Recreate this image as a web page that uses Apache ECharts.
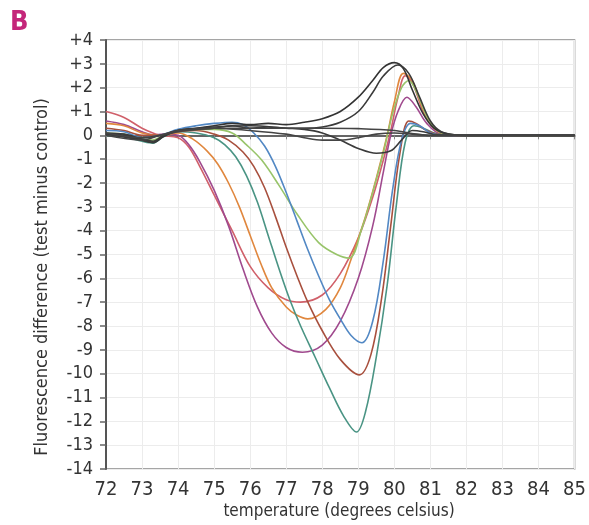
<!DOCTYPE html>
<html>
<head>
<meta charset="utf-8">
<script src="https://cdn.jsdelivr.net/npm/echarts@6/dist/echarts.min.js"></script>
<style>
  html, body { margin: 0; padding: 0; background: #fff; }
  #chart { width: 589px; height: 525px; }
</style>
</head>
<body>
<div id="chart"></div>
<script>
// Melt-curve difference plot: test minus control fluorescence vs temperature.
// Each series is a list of [temperature, difference] pairs.

const xTicks = { min: 72, max: 85, step: 1 };
const yTicks = { min: -14, max: 4, step: 1 };

const redCurve = [
  [72, 1.0], [72.5, 0.75], [73, 0.3], [73.5, 0.0], [74, -0.1], [74.3, -0.5], [74.6, -1.3],
  [75, -2.5], [75.5, -4.0], [76, -5.5], [76.5, -6.4], [77, -6.9], [77.4, -7.0], [78, -6.7],
  [78.5, -5.8], [79, -4.3], [79.4, -2.6], [79.7, -1.0], [79.9, 0.2], [80.1, 1.6], [80.3, 2.5],
  [80.5, 2.2], [80.8, 1.0], [81.1, 0.3], [81.5, 0.02], [82, 0], [83, 0], [84, 0], [85, 0]
];
const purpleCurve = [
  [72, 0.6], [72.5, 0.45], [73, 0.15], [73.3, 0.02], [73.6, 0.05], [74, 0.0], [74.3, -0.4],
  [74.6, -1.1], [75, -2.3], [75.4, -3.8], [75.8, -5.6], [76.2, -7.2], [76.6, -8.3], [77, -8.9],
  [77.45, -9.1], [78, -8.8], [78.5, -7.8], [79, -6.0], [79.4, -3.8], [79.7, -1.5], [79.9, 0],
  [80.1, 1.0], [80.35, 1.6], [80.6, 1.2], [80.9, 0.5], [81.3, 0.05], [82, 0], [83, 0], [84, 0], [85, 0]
];
const orangeCurve = [
  [72, 0.5], [72.5, 0.4], [73, 0.1], [73.5, 0.0], [74, 0.1], [74.4, -0.15], [74.8, -0.65],
  [75.1, -1.2], [75.4, -2.0], [75.7, -3.0], [76.0, -4.2], [76.3, -5.4], [76.6, -6.4], [77.0, -7.2],
  [77.3, -7.55], [77.6, -7.7], [78.1, -7.3], [78.5, -6.4], [78.8, -5.2], [79.2, -3.4], [79.5, -1.8],
  [79.8, 0.0], [80.0, 1.4], [80.25, 2.6], [80.5, 2.3], [80.8, 1.1], [81.1, 0.3], [81.5, 0.02],
  [82, 0], [83, 0], [84, 0], [85, 0]
];
const tealCurve = [
  [72, 0.0], [72.5, -0.05], [73, -0.25], [73.3, -0.33], [73.6, -0.05], [74, 0.15], [74.5, 0.1],
  [75, -0.1], [75.3, -0.4], [75.6, -0.9], [75.9, -1.7], [76.2, -2.8], [76.5, -4.2], [76.8, -5.6],
  [77.1, -6.9], [77.4, -8.0], [77.8, -9.3], [78.2, -10.6], [78.6, -11.8], [78.95, -12.45],
  [79.2, -11.6], [79.5, -9.3], [79.8, -6.3], [80.05, -3.0], [80.3, -0.3], [80.55, 0.4], [80.8, 0.3],
  [81.2, 0.05], [82, 0], [83, 0], [84, 0], [85, 0]
];
const darkRedCurve = [
  [72, 0.3], [72.5, 0.2], [73, 0.0], [73.5, 0.0], [74, 0.15], [74.5, 0.2], [75, 0.05], [75.4, -0.2],
  [75.8, -0.7], [76.1, -1.3], [76.4, -2.2], [76.7, -3.4], [77.0, -4.7], [77.3, -5.9], [77.6, -7.0],
  [78.0, -8.2], [78.5, -9.4], [79.03, -10.05], [79.35, -9.2], [79.65, -6.8], [79.9, -3.8],
  [80.15, -0.8], [80.4, 0.6], [80.6, 0.5], [80.9, 0.2], [81.3, 0.02], [82, 0], [83, 0], [84, 0], [85, 0]
];
const greenCurve = [
  [72, 0.1], [72.5, 0.05], [73, -0.15], [73.3, -0.2], [73.6, 0.0], [74, 0.2], [74.5, 0.25], [75, 0.25],
  [75.5, 0.1], [75.9, -0.4], [76.32, -1.04], [76.8, -2.1], [77.3, -3.3], [77.9, -4.5], [78.4, -5.0],
  [78.75, -5.15], [79.1, -3.9], [79.4, -2.4], [79.7, -0.7], [79.95, 0.9], [80.2, 2.0], [80.4, 2.3],
  [80.65, 1.7], [80.9, 0.8], [81.2, 0.2], [81.6, 0.02], [82, 0], [83, 0], [84, 0], [85, 0]
];
const blueCurve = [
  [72, 0.2], [72.5, 0.15], [73, -0.1], [73.5, 0.0], [74, 0.25], [74.5, 0.4], [75, 0.5], [75.5, 0.55],
  [75.8, 0.45], [76.1, 0.1], [76.4, -0.45], [76.7, -1.3], [77.0, -2.4], [77.3, -3.6], [77.6, -4.8],
  [77.9, -5.9], [78.2, -6.9], [78.5, -7.7], [78.8, -8.4], [79.1, -8.7], [79.4, -7.8], [79.7, -5.2],
  [79.95, -2.3], [80.2, -0.2], [80.45, 0.5], [80.7, 0.4], [81.0, 0.1], [81.4, 0.01], [82, 0],
  [83, 0], [84, 0], [85, 0]
];
const blackPeakA = [
  [72, 0.05], [72.5, 0.0], [73, -0.2], [73.3, -0.3], [73.6, -0.05], [74, 0.2], [74.5, 0.3], [75, 0.4],
  [75.5, 0.5], [76, 0.45], [76.5, 0.5], [77, 0.45], [77.5, 0.55], [78, 0.7], [78.5, 1.0], [79, 1.6],
  [79.4, 2.3], [79.7, 2.85], [80.0, 3.05], [80.25, 2.8], [80.5, 1.9], [80.8, 0.9], [81.1, 0.3],
  [81.5, 0.05], [82, 0], [83, 0], [84, 0], [85, 0]
];
const blackPeakB = [
  [72, 0.1], [72.5, 0.05], [73, -0.15], [73.3, -0.25], [73.6, 0.0], [74, 0.2], [74.5, 0.25], [75, 0.3],
  [75.5, 0.4], [76, 0.3], [76.5, 0.35], [77, 0.3], [77.5, 0.3], [78, 0.35], [78.5, 0.55], [79, 1.0],
  [79.4, 1.8], [79.7, 2.5], [80.1, 2.95], [80.4, 2.6], [80.7, 1.6], [81.0, 0.6], [81.3, 0.15],
  [81.7, 0.02], [82, 0], [83, 0], [84, 0], [85, 0]
];
const blackDip = [
  [72, 0.05], [73, -0.2], [73.3, -0.3], [73.6, 0.0], [74, 0.2], [75, 0.35], [76, 0.4], [77, 0.3],
  [77.5, 0.25], [78, 0.1], [78.5, -0.2], [79, -0.55], [79.5, -0.75], [79.9, -0.65], [80.2, -0.2],
  [80.5, 0.2], [80.8, 0.15], [81.2, 0.02], [82, 0], [83, 0], [84, 0], [85, 0]
];
const blackFlat = [
  [72, 0.1], [73, -0.1], [73.5, 0.0], [74, 0.15], [75, 0.3], [76, 0.3], [77, 0.3], [78, 0.3],
  [79, 0.28], [80, 0.2], [80.6, 0.05], [81, 0.0], [82, 0], [83, 0], [84, 0], [85, 0]
];
const blackLow = [
  [72, 0.0], [73, -0.2], [73.5, 0.0], [74, 0.2], [75, 0.3], [76, 0.2], [77, 0.05], [77.5, -0.1],
  [78, -0.2], [78.5, -0.2], [79, -0.1], [79.5, 0.05], [80, 0.1], [80.5, 0.05], [81, 0], [82, 0],
  [83, 0], [84, 0], [85, 0]
];

const coloredSeries = [
  { name: 'red', data: redCurve, color: '#d0606a' },
  { name: 'purple', data: purpleCurve, color: '#a04a8e' },
  { name: 'orange', data: orangeCurve, color: '#e0873e' },
  { name: 'teal', data: tealCurve, color: '#4a9484' },
  { name: 'darkred', data: darkRedCurve, color: '#a8503e' },
  { name: 'green', data: greenCurve, color: '#98c46a' },
  { name: 'blue', data: blueCurve, color: '#5288c4' }
];
const blackSeries = [
  { name: 'k1', data: blackPeakA, color: '#333333' },
  { name: 'k2', data: blackPeakB, color: '#3a3a3a' },
  { name: 'k3', data: blackDip, color: '#3a3a3a' },
  { name: 'k4', data: blackFlat, color: '#444444' },
  { name: 'k5', data: blackLow, color: '#444444' }
];

const FONT = '"Liberation Sans Narrow", "DejaVu Sans Condensed", "Liberation Sans", sans-serif';

const series = coloredSeries.concat(blackSeries).map(s => ({
  name: s.name,
  type: 'line',
  data: s.data,
  smooth: 0.35,
  symbol: 'none',
  silent: true,
  lineStyle: { color: s.color, width: 1.6 }
}));

const chart = echarts.init(document.getElementById('chart'), null, { renderer: 'canvas' });
chart.setOption({
  backgroundColor: '#ffffff',
  animation: false,
  grid: { left: 106, right: 13, top: 40, bottom: 56, show: true, borderColor: '#888', borderWidth: 1.5 },
  xAxis: {
    type: 'value',
    min: xTicks.min, max: xTicks.max, interval: xTicks.step,
    axisLine: { show: true, lineStyle: { color: '#666', width: 2 } },
    axisTick: { show: true, length: 4, lineStyle: { color: '#888' } },
    axisLabel: { color: '#333', fontFamily: FONT, fontSize: 20, margin: 11 },
    splitLine: { show: true, lineStyle: { color: '#ececec', width: 1 } }
  },
  yAxis: {
    type: 'value',
    min: yTicks.min, max: yTicks.max, interval: yTicks.step,
    axisLine: { show: true, lineStyle: { color: '#555', width: 2 } },
    axisTick: { show: true, length: 6, lineStyle: { color: '#666', width: 1.5 } },
    axisLabel: {
      color: '#333', fontFamily: FONT, fontSize: 18, margin: 13,
      formatter: v => (v > 0 ? '+' + v : String(v))
    },
    splitLine: { show: true, lineStyle: { color: '#ececec', width: 1 } }
  },
  graphic: [
    {
      type: 'text', left: 10, top: 9,
      style: { text: 'B', fill: '#c4267a', font: 'bold 27px ' + FONT }
    },
    {
      type: 'text', x: 42, y: 277, rotation: Math.PI / 2,
      style: {
        text: 'Fluorescence difference (test minus control)',
        fill: '#333', font: '18px ' + FONT, align: 'center', verticalAlign: 'middle'
      }
    },
    {
      type: 'text', x: 339, y: 512,
      style: {
        text: 'temperature (degrees celsius)',
        fill: '#333', font: '17px ' + FONT, align: 'center', verticalAlign: 'middle'
      }
    }
  ],
  series: series
});
</script>
</body>
</html>
